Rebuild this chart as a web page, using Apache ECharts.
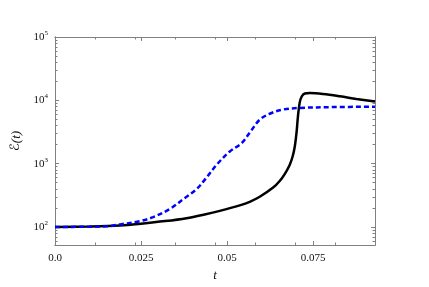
<!DOCTYPE html>
<html>
<head>
<meta charset="utf-8">
<script src="https://cdn.jsdelivr.net/npm/echarts@6/dist/echarts.min.js"></script>
<style>html,body{margin:0;padding:0;background:#fff;}#c{width:429px;height:287px;}</style>
</head>
<body>
<div id="c"></div>
<script>
// time values and energies
const blackT = [0, 0.01, 0.0189, 0.025, 0.032, 0.0382, 0.0435, 0.0479, 0.0537, 0.0566, 0.0595, 0.0634, 0.0653, 0.0668, 0.0682, 0.0691, 0.0697, 0.0702, 0.0706, 0.0711, 0.0717, 0.0726, 0.0741, 0.0779, 0.0828, 0.0876, 0.093];
const blackE = [100, 102, 106, 113, 124, 138, 158, 180, 220, 250, 300, 419, 532, 692, 955, 1320, 1885, 3110, 5520, 9120, 11490, 12800, 13030, 12600, 11590, 10520, 9550];
const blueT = [0, 0.008, 0.015, 0.0189, 0.0247, 0.0285, 0.0334, 0.0373, 0.0411, 0.0440, 0.0470, 0.0508, 0.0542, 0.0571, 0.0595, 0.0624, 0.0663, 0.0712, 0.0808, 0.093];
const blueE = [100, 100.8, 102.5, 110, 124, 143, 193, 276, 394, 600, 964, 1560, 2100, 3380, 4950, 6140, 7160, 7590, 7820, 7950];
const xMajor = [0, 0.025, 0.05, 0.075];
const xMinor = [0.0116, 0.0233, 0.0349, 0.0465, 0.0581, 0.0698, 0.0814];
const yMajor = [100, 1000, 10000, 100000];
const yMinor = [60, 70, 80, 90, 200, 300, 400, 500, 600, 700, 800, 900, 2000, 3000, 4000, 5000, 6000, 7000, 8000, 9000, 20000, 30000, 40000, 50000, 60000, 70000, 80000, 90000];

const AX = '#808080';
const FONT = 'Liberation Serif, DejaVu Serif, serif';
const zip = (a, b) => a.map((v, i) => [v, b[i]]);

function xAx(pos, ticks, len, labels) {
  return {
    type: 'value', min: 0, max: 0.093, position: pos,
    axisLine: {show: true, onZero: false, lineStyle: {color: AX, width: 1}},
    axisTick: {show: true, inside: true, length: len, customValues: ticks, lineStyle: {color: AX}},
    axisLabel: labels ? {show: true, customValues: xMajor, color: '#111', fontFamily: FONT, fontSize: 11, margin: 8,
      formatter: v => v === 0 ? '0.0' : String(v)} : {show: false},
    splitLine: {show: false},
    name: labels ? 't' : '', nameLocation: 'middle', nameGap: 24,
    nameTextStyle: {fontFamily: FONT, fontStyle: 'italic', fontSize: 13, color: '#111'}
  };
}
function yAx(pos, ticks, len, labels) {
  return {
    type: 'log', logBase: 10, min: 52, max: 100000, position: pos,
    axisLine: {show: true, onZero: false, lineStyle: {color: AX, width: 1}},
    axisTick: {show: true, inside: true, length: len, customValues: ticks, lineStyle: {color: AX}},
    axisLabel: labels ? {show: true, customValues: yMajor, color: '#111', fontFamily: FONT, margin: 7,
      formatter: v => '10{s|' + Math.round(Math.log10(v)) + '}',
      rich: {s: {fontSize: 7, fontFamily: FONT, color: '#111', padding: [0, 0, 8, 0]}},
      fontSize: 11} : {show: false},
    splitLine: {show: false},
    name: labels ? '{e|ℰ}(t)' : '', nameLocation: 'middle', nameGap: 30, nameRotate: 90,
    nameTextStyle: {fontFamily: FONT, fontStyle: 'italic', fontSize: 13, color: '#111',
      rich: {e: {fontFamily: 'DejaVu Sans', fontStyle: 'normal', fontSize: 13, color: '#111'}}}
  };
}

const chart = echarts.init(document.getElementById('c'), null, {renderer: 'canvas'});
chart.setOption({
  animation: false,
  backgroundColor: '#fff',
  grid: {left: 55, right: 54, top: 37, bottom: 39, containLabel: false},
  xAxis: [xAx('bottom', xMajor, 4, true), xAx('bottom', xMinor, 2.5, false), xAx('top', xMajor, 4, false), xAx('top', xMinor, 2.5, false)],
  yAxis: [yAx('left', yMajor, 4, true), yAx('left', yMinor, 2.5, false), yAx('right', yMajor, 4, false), yAx('right', yMinor, 2.5, false)],
  series: [
    {type: 'line', data: zip(blackT, blackE), showSymbol: false, smooth: 0.35,
      lineStyle: {color: '#000', width: 2.5}, z: 3},
    {type: 'line', data: zip(blueT, blueE), showSymbol: false, smooth: 0.35,
      lineStyle: {color: '#0000ff', width: 2.5, type: [5, 3]}, z: 4}
  ]
});
</script>
</body>
</html>
